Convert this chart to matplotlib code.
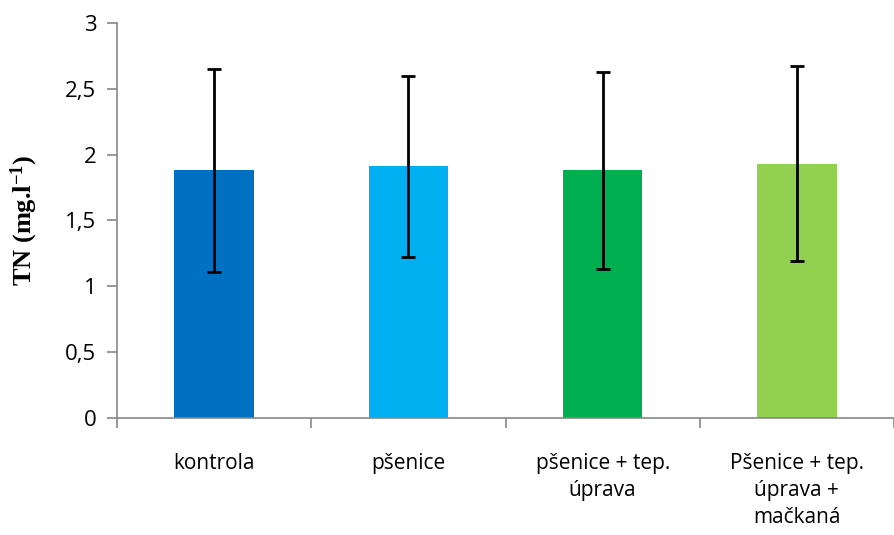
import numpy as np
import matplotlib.pyplot as plt

plt.rcParams["mathtext.default"] = "regular"

# --- Data ---
categories = ["kontrola", "pšenice", "pšenice + tep.\núprava",
              "Pšenice + tep.\núprava +\nmačkaná"]
means = [1.88, 1.91, 1.88, 1.93]
errors = [0.77, 0.69, 0.75, 0.74]
colors = ["#0070C0", "#00B0F0", "#00B050", "#92D050"]

fig = plt.figure(figsize=(8.94, 5.35), dpi=100)
ax = fig.add_axes([0.131, 0.219, 0.869, 0.738])

x = np.arange(len(categories))
ax.bar(x, means, width=0.41, color=colors, zorder=2)
ax.errorbar(x, means, yerr=errors, fmt="none", ecolor="black",
            elinewidth=2, capsize=5, capthick=2, zorder=3)

# axes styling
ax.set_xlim(-0.5, len(categories) - 0.5)
ax.set_ylim(0, 3)
ax.set_yticks(np.arange(0, 3.01, 0.5))
ax.set_yticklabels(["0", "0,5", "1", "1,5", "2", "2,5", "3"])
ax.set_xticks(x)
ax.set_xticklabels(categories, linespacing=1.4)
ax.set_xticks(np.arange(-0.5, len(categories), 1), minor=True)

for s in ["top", "right"]:
    ax.spines[s].set_visible(False)
for s in ["left", "bottom"]:
    ax.spines[s].set_color("#888888")
    ax.spines[s].set_linewidth(1.2)

ax.tick_params(axis="x", which="major", length=0, pad=25)
ax.tick_params(axis="x", which="minor", length=7, color="#888888", width=1.2)
ax.tick_params(axis="y", length=7, color="#888888", width=1.2, pad=8)

for lab in ax.get_xticklabels():
    lab.set_fontfamily("Open Sans")
    lab.set_fontsize(15)
for lab in ax.get_yticklabels():
    lab.set_fontfamily("Open Sans")
    lab.set_fontsize(16)

ax.set_ylabel("TN (mg.l$^{\\mathregular{-1}}$)", fontfamily="Liberation Serif",
              fontweight="bold", fontsize=19, labelpad=18)

fig.savefig("out.png", dpi=100)
